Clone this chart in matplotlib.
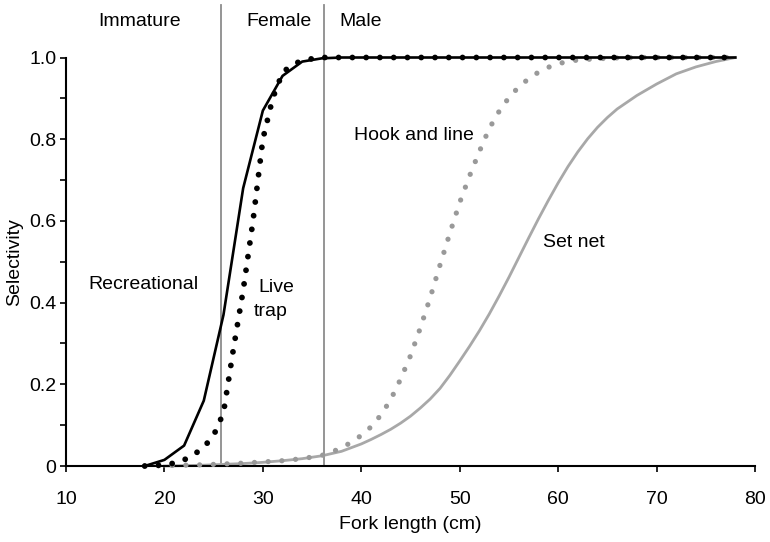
import matplotlib.pyplot as plt
from matplotlib.ticker import MultipleLocator

plt.rcParams['font.family'] = ['Liberation Sans', 'DejaVu Sans']

# --- dados ---
rec_x = [18, 20, 22, 24, 26, 28, 30, 32, 34, 36, 38, 40, 50, 60, 70, 78]
rec_y = [0.0, 0.015, 0.05, 0.16, 0.37, 0.68, 0.87, 0.955, 0.99, 0.998, 1.0, 1.0, 1.0, 1.0, 1.0, 1.0]

trap_x = [18, 19, 20, 21, 22, 23, 24, 25, 26, 27, 28, 29, 30, 31, 32, 33, 34, 35, 36, 40, 50, 60, 70, 78]
trap_y = [0.0, 0.001, 0.003, 0.007, 0.015, 0.028, 0.046, 0.075, 0.13, 0.285, 0.43, 0.60, 0.80, 0.90,
          0.963, 0.983, 0.992, 0.997, 1.0, 1.0, 1.0, 1.0, 1.0, 1.0]

hook_x = [18, 20, 22, 24, 26, 28, 30, 32, 34, 36, 37, 38, 39, 40, 41, 42, 43, 44, 45, 46, 47, 48,
          49, 50, 51, 52, 53, 54, 55, 56, 57, 58, 59, 60, 61, 62, 64, 66, 68, 70, 74, 78]
hook_y = [0.0, 0.001, 0.002, 0.003, 0.005, 0.007, 0.01, 0.013, 0.018, 0.026, 0.034, 0.045, 0.058,
          0.075, 0.096, 0.125, 0.163, 0.213, 0.27, 0.338, 0.412, 0.492, 0.57, 0.645, 0.71, 0.77,
          0.826, 0.868, 0.902, 0.928, 0.948, 0.964, 0.976, 0.985, 0.99, 0.994, 0.997, 0.999,
          1.0, 1.0, 1.0, 1.0]

net_x = [20, 22, 24, 26, 28, 30, 32, 34, 36, 38, 40, 41, 42, 43, 44, 45, 46, 47, 48, 49, 50, 51,
         52, 53, 54, 55, 56, 57, 58, 59, 60, 61, 62, 63, 64, 65, 66, 68, 70, 72, 74, 76, 78]
net_y = [0.0, 0.001, 0.002, 0.004, 0.006, 0.009, 0.013, 0.018, 0.025, 0.036, 0.054, 0.065, 0.077,
         0.09, 0.105, 0.122, 0.142, 0.164, 0.19, 0.222, 0.257, 0.293, 0.331, 0.372, 0.416, 0.462,
         0.51, 0.558, 0.605, 0.65, 0.693, 0.733, 0.769, 0.801, 0.829, 0.853, 0.874, 0.907, 0.935,
         0.96, 0.977, 0.99, 1.0]

stage_bounds = [25.75, 36.2]
stage_labels = ["Immature", "Female", "Male"]
stage_label_x = [17.5, 31.6, 39.9]

xticks = [10, 20, 30, 40, 50, 60, 70, 80]
yticks = [0, 0.2, 0.4, 0.6, 0.8, 1.0]
ytick_labels = ["0", "0.2", "0.4", "0.6", "0.8", "1.0"]

# --- figura ---
fig = plt.figure(figsize=(7.7, 5.42), dpi=100)
ax = fig.add_axes([0.0857, 0.1402, 0.8948, 0.7537])

for xb in stage_bounds:
    ax.plot([xb, xb], [0, 1.129], color="#8c8c8c", lw=1.3, clip_on=False, zorder=1)

ax.plot(net_x, net_y, color="#a8a8a8", lw=2.0, clip_on=False, zorder=2,
        solid_joinstyle="round")
ax.plot(hook_x, hook_y, color="#999999", lw=3.8, linestyle=(0, (0.001, 2.6)),
        dash_capstyle="round", clip_on=False, zorder=3)
ax.plot(trap_x, trap_y, color="black", lw=4.2, linestyle=(0, (0.001, 2.36)),
        dash_capstyle="round", clip_on=False, zorder=4)
ax.plot(rec_x, rec_y, color="black", lw=1.9, clip_on=False, zorder=5)

ax.set_xlim(10, 80)
ax.set_ylim(0, 1.0)
ax.set_xticks(xticks)
ax.set_yticks(yticks)
ax.set_yticklabels(ytick_labels)
ax.yaxis.set_minor_locator(MultipleLocator(0.1))

for side in ["top", "right"]:
    ax.spines[side].set_visible(False)
for side in ["left", "bottom"]:
    ax.spines[side].set_linewidth(1.5)

ax.tick_params(axis="x", direction="out", length=4, width=1.2, labelsize=14, pad=14)
ax.tick_params(axis="y", which="both", direction="out", length=4, width=1.2, labelsize=14, pad=3)

ax.set_xlabel("Fork length (cm)", fontsize=14, labelpad=6)
ax.set_ylabel("Selectivity", fontsize=14, labelpad=4)

for lab, lx in zip(stage_labels, stage_label_x):
    ax.text(lx, 1.088, lab, ha="center", va="center", fontsize=14, clip_on=False)

ax.text(17.9, 0.444, "Recreational", ha="center", va="center", fontsize=14)
ax.text(31.35, 0.437, "Live", ha="center", va="center", fontsize=14)
ax.text(30.75, 0.378, "trap", ha="center", va="center", fontsize=14)
ax.text(45.35, 0.808, "Hook and line", ha="center", va="center", fontsize=14)
ax.text(61.6, 0.546, "Set net", ha="center", va="center", fontsize=14)

fig.savefig("out.png", dpi=100)
plt.close(fig)
